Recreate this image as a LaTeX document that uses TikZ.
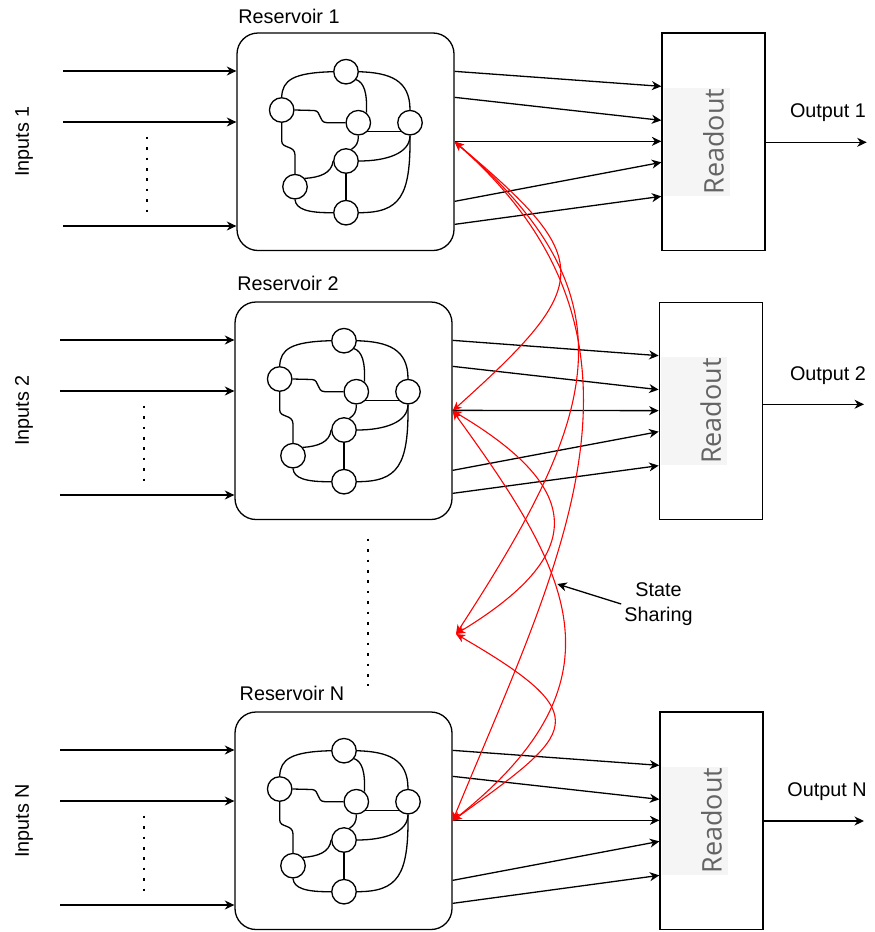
\documentclass[tikz,border=0pt]{standalone}
\usepackage{fontspec}
\setmainfont{Liberation Sans}
\newfontfamily\readoutfont{Open Sans}
\usetikzlibrary{arrows.meta,calc}
\pgfdeclarelayer{background}
\pgfsetlayers{background,main}
\definecolor{sharered}{RGB}{255,0,0}
\definecolor{labelbg}{RGB}{245,245,245}
\definecolor{labelfg}{RGB}{100,100,100}

% Recurrent network drawn inside a reservoir box (coordinates relative to the box's top-left corner)
\newcommand{\resnet}[1]{%
  \node[cell] (#1t)  at (109,38.7)   {};
  \node[cell] (#1l)  at (44.7,77)    {};
  \node[cell] (#1m)  at (121.3,89.7) {};
  \node[cell] (#1r)  at (173,89.7)   {};
  \node[cell] (#1c)  at (109,128)    {};
  \node[cell] (#1ll) at (58,153.7)   {};
  \node[cell] (#1b)  at (109,179.7)  {};
  \begin{pgfonlayer}{background}
    \draw[link] (#1t.west) .. controls (56.3,39.7) and (45.3,47) .. (#1l.north);
    \draw[link] (#1t.east) .. controls (153,39.7) and (173,47) .. (#1r.north);
    \draw[link] (#1t.-38) .. controls (127.3,49.7) and (130.3,60.3) .. (#1m.51);
    \draw[link] (#1l.east) -- (77,77.5) .. controls (85,78) and (81,89.5) .. (90,89.7) -- (#1m.west);
    \draw[link] (#1l.south) -- (44.7,108) .. controls (44.7,116) and (58,112) .. (58,122) -- (#1ll.north);
    \draw[link] (#1m.south) .. controls (121.3,111) and (119,113) .. (#1c.65);
    \draw[link] (#1m.-45) -- (#1r.-135);
    \draw[link] (#1r.south) .. controls (173,120.3) and (149.7,128) .. (#1c.east);
    \draw[link] (#1r.south) .. controls (173.7,163.7) and (163,179.7) .. (#1b.east);
    \draw[link] (#1c.west) .. controls (94.7,140.3) and (83,144.3) .. (#1ll.40);
    \draw[link] (#1c.south) -- (#1b.north);
    \draw[link] (#1ll.south) .. controls (59,176) and (70,180) .. (#1b.west);
  \end{pgfonlayer}%
}

\begin{document}
\begin{tikzpicture}[x=1pt,y=-1pt,
  every node/.style={font=\fontsize{19.8}{25}\selectfont},
  resbox/.style={draw, line width=1.3pt, rounded corners=21pt, minimum width=217pt, minimum height=217.5pt, inner sep=0pt},
  robox/.style={draw, line width=1.3pt, minimum width=103pt, minimum height=217.5pt, inner sep=0pt},
  cell/.style={circle, draw, fill=white, line width=1.3pt, minimum size=24.5pt, inner sep=0pt},
  link/.style={line width=1.3pt},
  feed/.style={line width=1.3pt, -{Stealth[length=9.5pt,width=9pt,inset=3pt]}},
  share/.style={sharered, line width=1.1pt, {Stealth[length=9pt,width=8pt,inset=2.5pt]}-{Stealth[length=9pt,width=8pt,inset=2.5pt]}},
  dotline/.style={line width=2.6pt, dash pattern=on 2.6pt off 7.8pt},
  rotext/.style={rotate=90, font=\readoutfont\fontsize{27}{30}\selectfont, text=labelfg, inner sep=0pt},
  sidetext/.style={rotate=90, inner sep=0pt},
  plain/.style={inner sep=0pt}]

\useasboundingbox (0,0) rectangle (875,932);

% Reservoir rows: name / box corner / readout corner / input start x / title centre / output label / output arrow
\foreach \n/\bx/\by/\rx/\ry/\ix/\tx/\ty/\ox/\oy/\ay/\ex in
  {1/237/33/662/33/63/289/16/828/117.3/142.3/866.7,
   2/235/302/659.3/302.3/60/288/283/828/380/404.3/864,
   N/235/712/660/712/60/292/693/827/796.5/821/864}{
  % reservoir box and title
  \node[resbox] (res\n) at ({\bx+108.5},{\by+108.75}) {};
  \node[plain] (title\n) at (\tx,\ty) {Reservoir \n};
  \begin{scope}[shift={(\bx,\by)}]
    \resnet{net\n}
  \end{scope}
  % inputs
  \node[sidetext] (inlab\n) at (24,{\by+108.75}) {Inputs \n};
  \foreach \k/\dy in {a/38,b/89,c/193}{
    \coordinate (in\n\k) at (\ix,{\by+\dy});
    \draw[feed] (in\n\k) -- (in\n\k -| res\n.west);
  }
  \draw[dotline] ({\ix+84},{\by+103.7}) -- ({\ix+84},{\by+180});
  % readout box with its label
  \node[robox] (ro\n) at ({\rx+51.5},{\ry+108.75}) {};
  \fill[labelbg] ({\rx+2},{\ry+108.75-54}) rectangle ({\rx+68},{\ry+108.75+54});
  \node[rotext] (rolab\n) at (ro\n) {Readout};
  % reservoir states to readout
  \foreach \sy/\ey in {39/54,65/88,109/109,169/130,192/164}{
    \draw[feed] ($(res\n.north east)+(0,\sy)$) -- ($(ro\n.north west)+(0,\ey)$);
  }
  % output
  \coordinate (out\n) at (\ex,\ay);
  \draw[feed] (ro\n.east |- out\n) -- (out\n);
  \node[plain, anchor=base] (outlab\n) at (\ox,\oy) {Output \n};
}

% ellipsis between reservoir 2 and reservoir N
\draw[dotline] (368,538.7) -- (368,686);

% state sharing between reservoirs
\coordinate (mid) at (456,634);
\draw[share] (res1.east) .. controls (595,260) and (595,283) .. (res2.east);
\draw[share] (res1.east) .. controls (640,300) and (595,420) .. (mid);
\draw[share] (res1.east) .. controls (680,340) and (560,560) .. (resN.east);
\draw[share] (res2.east) .. controls (586,490) and (586,555) .. (mid);
\draw[share] (res2.east) .. controls (568,570) and (632,678) .. (resN.east);
\draw[share] (mid) .. controls (599,717) and (575,732) .. (resN.east);

\node[align=center, inner sep=3pt] (sslab) at (658.5,604) {State\\Sharing};
\coordinate (sspt) at (557.3,584);
\draw[feed] (sslab.west) -- (sspt);
\end{tikzpicture}
\end{document}
